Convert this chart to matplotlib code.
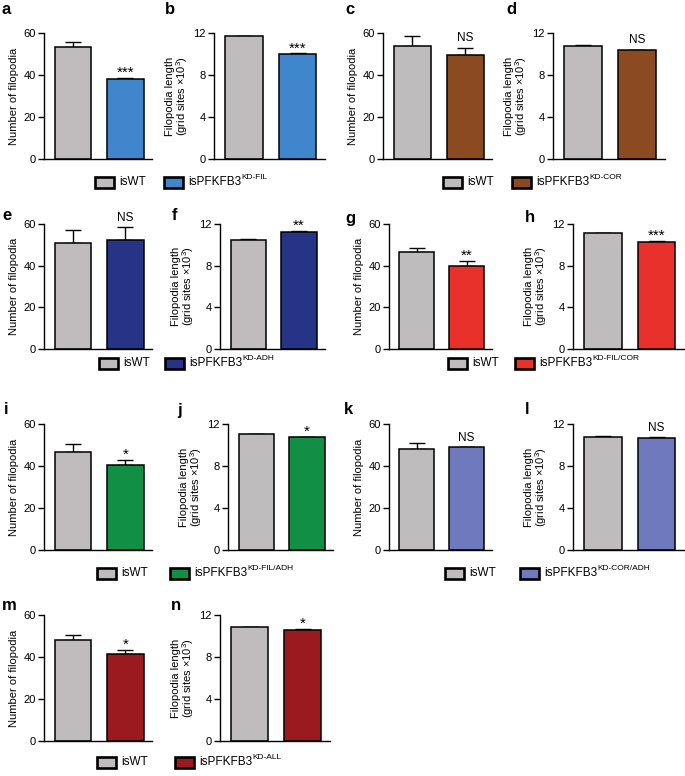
import matplotlib
matplotlib.use("Agg")
import matplotlib.pyplot as plt
from matplotlib.patches import Rectangle

plt.rcParams['font.family'] = ['Liberation Sans', 'DejaVu Sans']
plt.rcParams['mathtext.fontset'] = 'custom'
plt.rcParams['mathtext.rm'] = 'Liberation Sans'
plt.rcParams['mathtext.it'] = 'Liberation Sans'

# ---------------- data ----------------
panel_count = ['a', 'c', 'e', 'g', 'i', 'k', 'm']
panel_length = ['b', 'd', 'f', 'h', 'j', 'l', 'n']
groups = ['isWT', 'isPFKFB3']
kd_labels = ['KD-FIL', 'KD-COR', 'KD-ADH', 'KD-FIL/COR', 'KD-FIL/ADH', 'KD-COR/ADH', 'KD-ALL']
kd_colors = ['#3f86cc', '#8b4a1f', '#263487', '#e8312a', '#119045', '#6f79bd', '#9a1a1f']
wt_color = '#bebcbd'

count_wt = [53.5, 54.0, 51.0, 46.5, 46.5, 48.0, 48.3]
count_wt_err = [2.0, 4.5, 6.0, 2.0, 4.0, 3.0, 2.1]
count_kd = [38.0, 49.5, 52.5, 40.0, 40.5, 49.0, 41.5]
count_kd_err = [0.5, 3.5, 6.0, 2.2, 2.5, 0.0, 2.0]
count_sig = ['***', 'NS', 'NS', '**', '*', 'NS', '*']

length_wt = [11.70, 10.80, 10.50, 11.10, 11.05, 10.80, 10.85]
length_wt_err = [0.05, 0.10, 0.05, 0.02, 0.02, 0.10, 0.03]
length_kd = [10.00, 10.35, 11.20, 10.30, 10.75, 10.65, 10.60]
length_kd_err = [0.05, 0.05, 0.15, 0.05, 0.05, 0.10, 0.07]
length_sig = ['***', 'NS', '**', '***', '*', 'NS', '*']

count_ticks = [0, 20, 40, 60]
length_ticks = [0, 4, 8, 12]
count_ylabel = 'Number of filopodia'
length_ylabel = 'Filopodia length\n(grid sites \u00d710$^{3}$)'

# ---------------- layout (pixels) ----------------
W, H = 685, 776
fig = plt.figure(figsize=(W / 100, H / 100), dpi=100)

count_boxes = [(44, 152, 33, 159), (383, 492, 33, 159), (44, 152, 224, 349), (389, 492, 224, 349),
               (44, 152, 424, 550), (389, 492, 424, 550), (44, 152, 615, 741)]
length_boxes = [(214, 325, 33, 159), (553, 665, 33, 159), (220, 325, 224, 349), (573, 684, 224, 349),
                (228, 333, 424, 550), (573, 684, 424, 550), (220, 330, 615, 741)]
count_letter_xy = [(2, 10), (345, 10), (2, 215), (345, 218), (4, 410), (344, 410), (2, 605)]
length_letter_xy = [(165, 10), (506, 10), (172, 215), (525, 218), (177, 410), (525, 410), (171, 605)]
legend_xy = [(95, 164, 182), (443, 512, 182), (99, 165, 363), (448, 515, 363),
             (97, 170, 573), (445, 520, 573), (97, 175, 762)]


def px_axes(x0, x1, ytop, ybot):
    return fig.add_axes([x0 / W, 1 - ybot / H, (x1 - x0) / W, (ybot - ytop) / H])


def draw_panel(box, wt, wt_err, kd, kd_err, color, sig, ticks, ylabel, letter, letter_xy, two_line):
    ax = px_axes(*box)
    xs = [0, 1]
    vals = [wt, kd]
    errs = [wt_err, kd_err]
    ax.bar(xs, vals, width=0.7, color=[wt_color, color], edgecolor='black', linewidth=1.1, zorder=2)
    ax.errorbar(xs, vals, yerr=[[0, 0], errs], fmt='none', ecolor='black', elinewidth=1.0,
                capsize=6, capthick=1.0, zorder=1)
    ax.set_xlim(-0.56, 1.51)
    ax.set_ylim(0, ticks[-1])
    ax.set_yticks(ticks)
    ax.set_xticks([])
    for s in ['top', 'right']:
        ax.spines[s].set_visible(False)
    for s in ['left', 'bottom']:
        ax.spines[s].set_linewidth(1.0)
    ax.tick_params(axis='y', length=4, width=1.0, labelsize=8, pad=2)
    ax.set_ylabel(ylabel, fontsize=8, labelpad=3 if not two_line else 2, linespacing=1.0)
    if sig == 'NS':
        ax.annotate(sig, xy=(1, kd + kd_err), xytext=(0, 2.5), textcoords='offset points',
                    ha='center', va='bottom', fontsize=8.5, annotation_clip=False)
    else:
        ax.annotate(sig, xy=(1, kd + kd_err), xytext=(0, -1.5), textcoords='offset points',
                    ha='center', va='bottom', fontsize=11, annotation_clip=False)
    fig.text(letter_xy[0] / W, 1 - letter_xy[1] / H, letter, fontsize=12, fontweight='bold',
             ha='left', va='center')
    return ax


def draw_legend(lx, color, kd_label):
    gx, cx, y = lx
    bw, bh = 19, 11
    for x0, c in [(gx, wt_color), (cx, color)]:
        fig.patches.append(Rectangle((x0 / W, 1 - (y + bh / 2) / H), bw / W, bh / H,
                                     facecolor=c, edgecolor='black', linewidth=1.9,
                                     transform=fig.transFigure, figure=fig))
    fig.text((gx + bw + 5) / W, 1 - y / H, groups[0], fontsize=8.5, ha='left', va='center')
    t = fig.text((cx + bw + 5) / W, 1 - y / H, groups[1], fontsize=8.5, ha='left', va='center')
    fig.canvas.draw()
    fig.add_artist(plt.Annotation(kd_label, xy=(1.0, 0.62), xycoords=t, fontsize=6,
                                  ha='left', va='bottom'))


for i in range(7):
    draw_panel(count_boxes[i], count_wt[i], count_wt_err[i], count_kd[i], count_kd_err[i],
               kd_colors[i], count_sig[i], count_ticks, count_ylabel, panel_count[i],
               count_letter_xy[i], False)
    draw_panel(length_boxes[i], length_wt[i], length_wt_err[i], length_kd[i], length_kd_err[i],
               kd_colors[i], length_sig[i], length_ticks, length_ylabel, panel_length[i],
               length_letter_xy[i], True)
    draw_legend(legend_xy[i], kd_colors[i], kd_labels[i])

fig.savefig('out.png', dpi=100)
